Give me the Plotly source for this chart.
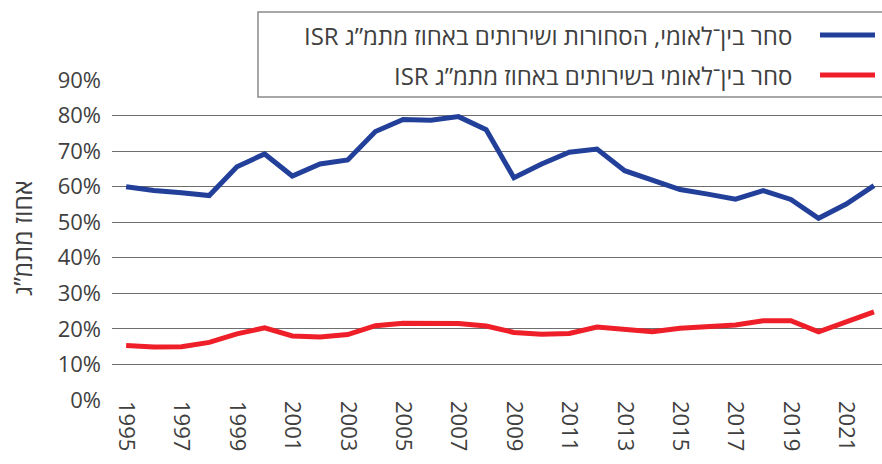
import plotly.graph_objects as go

# Years and series (share of GDP)
years = list(range(1995, 2023))
goods_services = [0.600, 0.589, 0.583, 0.575, 0.656, 0.692, 0.630, 0.664, 0.675, 0.755,
                  0.789, 0.787, 0.797, 0.760, 0.625, 0.664, 0.697, 0.706, 0.645, 0.620,
                  0.592, 0.579, 0.565, 0.589, 0.564, 0.511, 0.551, 0.603]
services = [0.153, 0.149, 0.150, 0.162, 0.186, 0.203, 0.180, 0.177, 0.184, 0.209,
            0.216, 0.217, 0.215, 0.208, 0.190, 0.185, 0.187, 0.205, 0.197, 0.192,
            0.202, 0.206, 0.211, 0.223, 0.223, 0.192, 0.219, 0.248]

name_goods = "ISR סחר בין־לאומי, הסחורות ושירותים באחוז מתמ”ג"
name_services = "ISR סחר בין־לאומי בשירותים באחוז מתמ”ג"
y_title = "אחוז מתמ”ג"
tick_years = list(range(1995, 2022, 2))

BLUE = "#22409a"
RED = "#ee1f29"
FONT = "Open Sans, Liberation Sans, DejaVu Sans, sans-serif"
TXT = "#404040"

fig = go.Figure()
fig.add_trace(go.Scatter(x=years, y=goods_services, mode="lines", name=name_goods,
                         line=dict(color=BLUE, width=5), showlegend=False))
fig.add_trace(go.Scatter(x=years, y=services, mode="lines", name=name_services,
                         line=dict(color=RED, width=5), showlegend=False))

W, H = 882, 464
L, R, T, B = 112, 0, 80, 64
pw, ph = W - L - R, H - T - B


def px_x(p):
    return (p - L) / pw


def px_y(p):
    return (H - B - p) / ph


# Legend box drawn right-to-left: label text, then line sample on the right
fig.add_shape(type="rect", xref="paper", yref="paper",
              x0=px_x(258), x1=px_x(900), y0=px_y(97), y1=px_y(12),
              line=dict(color="#8a8a8a", width=1.5), fillcolor="white", layer="above")
for label, color, yy in [(name_goods, BLUE, 35), (name_services, RED, 75)]:
    fig.add_shape(type="line", xref="paper", yref="paper",
                  x0=px_x(820), x1=px_x(875), y0=px_y(yy), y1=px_y(yy),
                  line=dict(color=color, width=5), layer="above")
    fig.add_annotation(xref="paper", yref="paper", x=px_x(794), y=px_y(yy),
                       xanchor="right", yanchor="middle", text=label, showarrow=False,
                       font=dict(family=FONT, size=24, color=TXT))

fig.add_annotation(xref="paper", yref="paper", x=px_x(22), y=px_y(238),
                   text=y_title, textangle=-90, showarrow=False,
                   xanchor="center", yanchor="middle",
                   font=dict(family=FONT, size=25, color=TXT))

fig.update_layout(
    width=W, height=H,
    margin=dict(l=L, r=R, t=T, b=B, autoexpand=False),
    paper_bgcolor="white", plot_bgcolor="white",
    font=dict(family=FONT, size=20, color=TXT),
    xaxis=dict(range=[1994.49, 2022.29], tickvals=tick_years,
               ticktext=[str(y) for y in tick_years], tickangle=90,
               showgrid=False, zeroline=False, showline=False, ticks="",
               tickfont=dict(size=22, color=TXT)),
    yaxis=dict(range=[0, 0.9], dtick=0.1, tickformat=".0%",
               showgrid=True, gridcolor="#6e6e6e", gridwidth=1,
               zeroline=False, showline=False, ticks="", ticklabelstandoff=10,
               tickfont=dict(size=22, color=TXT)),
)

fig.write_html("out.html")
